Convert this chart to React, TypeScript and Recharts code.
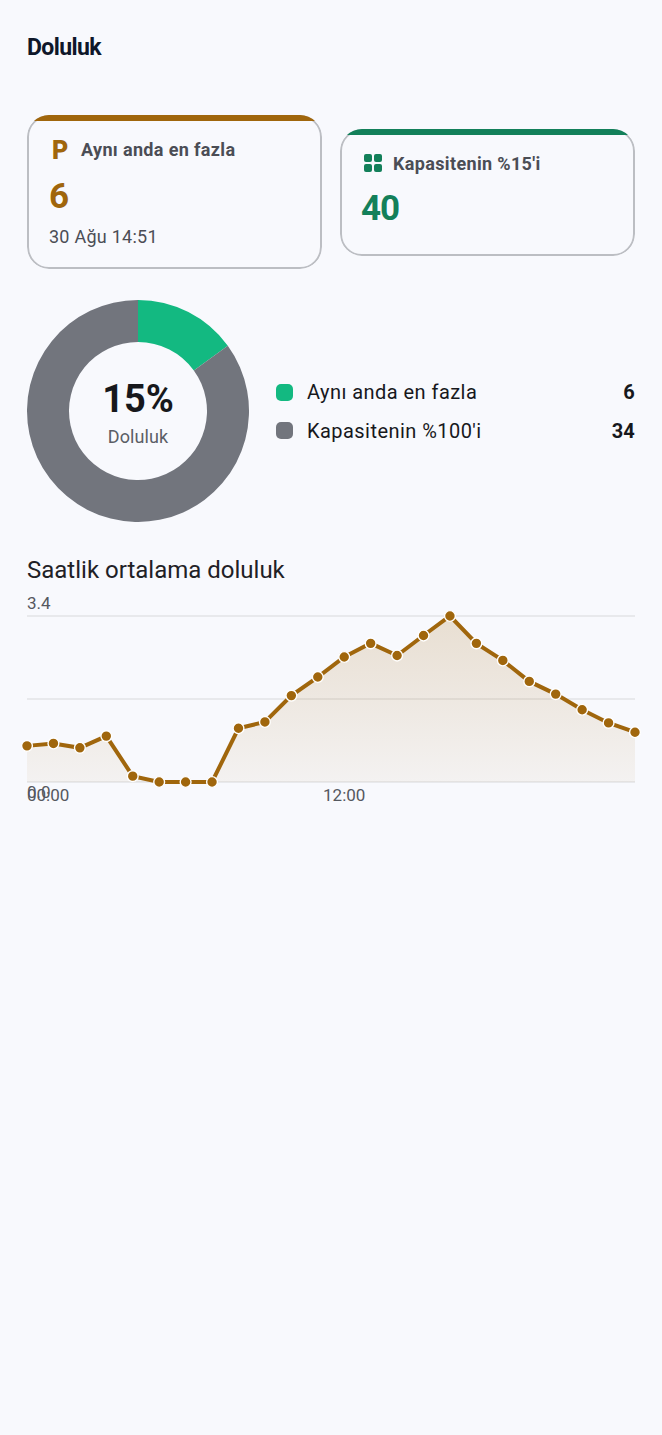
import { AreaChart, Area, CartesianGrid, XAxis, YAxis, PieChart, Pie, Cell } from 'recharts';

const hours = [
  '00:00', '01:00', '02:00', '03:00', '04:00', '05:00', '06:00', '07:00',
  '08:00', '09:00', '10:00', '11:00', '12:00', '13:00', '14:00', '15:00',
  '16:00', '17:00', '18:00', '19:00', '20:00', '21:00', '22:00', '23:00',
];
const occupancy = [
  0.74, 0.79, 0.7, 0.94, 0.12, 0, 0, 0, 1.1, 1.23, 1.77, 2.15,
  2.56, 2.84, 2.59, 3.0, 3.4, 2.84, 2.49, 2.06, 1.8, 1.48, 1.21, 1.02,
];
const xTicks = ['00:00', '12:00'];
const yTicks = [0, 1.7, 3.4];
const sliceNames = ['Aynı anda en fazla', "Kapasitenin %100'i"];
const sliceValues = [6, 34];
const sliceColors = ['#13B981', '#72757D'];

const AMBER = '#A0660C';
const GREEN = '#13805A';
const FONT = 'Roboto, sans-serif';

const hourlyData = hours.map((hour, i) => ({ hour, value: occupancy[i] }));
const pieData = sliceNames.map((name, i) => ({ name, value: sliceValues[i] }));

function XTick({ x, y, payload }: any) {
  const first = payload.value === '00:00';
  return (
    <text x={x} y={y + 11} textAnchor={first ? 'start' : 'middle'} fontSize={17} fontFamily={FONT} fill="#55585f">
      {payload.value}
    </text>
  );
}

function YTick({ y, payload }: any) {
  if (payload.value === 1.7) return <g />;
  return (
    <text x={27} y={payload.value === 0 ? y + 16 : y - 7} fontSize={17} fontFamily={FONT} fill="#55585f">
      {payload.value.toFixed(1)}
    </text>
  );
}

function Card({ left, top, height, color, children }: any) {
  return (
    <div style={{ position: 'absolute', left, top, width: 295, height, borderRadius: 22, overflow: 'hidden' }}>
      <div style={{ position: 'absolute', inset: 0, boxSizing: 'border-box', border: '2px solid #bcbec3', borderRadius: 22 }} />
      <div style={{ position: 'absolute', left: 0, right: 0, top: 0, height: 6, background: color }} />
      <div style={{ position: 'absolute', inset: 2 }}>{children}</div>
    </div>
  );
}

function Text({ left, top, size, weight = 400, color, children, right, spacing }: any) {
  return (
    <div
      style={{
        position: 'absolute',
        left,
        right,
        top,
        fontFamily: FONT,
        fontSize: size,
        fontWeight: weight,
        color,
        lineHeight: `${Math.round(size * 1.2)}px`,
        letterSpacing: spacing,
        whiteSpace: 'nowrap',
      }}
    >
      {children}
    </div>
  );
}

export default function App() {
  return (
    <div style={{ position: 'absolute', left: 0, top: 0, width: 662, height: 1435, background: '#F8F9FD', overflow: 'hidden' }}>
      <Text left={27} top={34} size={23} weight={700} color="#0F172A" spacing={-0.6}>Doluluk</Text>

      <Card left={27} top={115} height={154} color={AMBER}>
        <Text left={23} top={19} size={25} weight={900} color={AMBER}>P</Text>
        <Text left={52} top={22} size={18} weight={700} color="#4B4D55" spacing={0.35}>Aynı anda en fazla</Text>
        <Text left={20} top={59} size={35} weight={700} color={AMBER}>6</Text>
        <Text left={20} top={109} size={18} color="#4B4D55" spacing={0.25}>30 Ağu 14:51</Text>
      </Card>

      <Card left={340} top={129} height={127} color={GREEN}>
        <div style={{ position: 'absolute', left: 22, top: 23, width: 18, height: 18, display: 'grid', gridTemplateColumns: '8px 8px', gridTemplateRows: '8px 8px', gap: 2 }}>
          {[0, 1, 2, 3].map((k) => (
            <div key={k} style={{ background: GREEN, borderRadius: 2 }} />
          ))}
        </div>
        <Text left={51} top={22} size={18} weight={700} color="#4B4D55" spacing={0.35}>Kapasitenin %15'i</Text>
        <Text left={19} top={57} size={35} weight={700} color={GREEN} spacing={-1}>40</Text>
      </Card>

      <div style={{ position: 'absolute', left: 27, top: 300 }}>
        <PieChart width={222} height={222} margin={{ top: 0, right: 0, bottom: 0, left: 0 }}>
          <Pie
            data={pieData}
            dataKey="value"
            cx={111}
            cy={111}
            innerRadius={69}
            outerRadius={111}
            startAngle={90}
            endAngle={-270}
            stroke="none"
            isAnimationActive={false}
          >
            {pieData.map((d, i) => (
              <Cell key={d.name} fill={sliceColors[i]} />
            ))}
          </Pie>
        </PieChart>
      </div>
      <div style={{ position: 'absolute', left: 27, width: 222, top: 376, textAlign: 'center', fontFamily: FONT, fontSize: 38, fontWeight: 700, color: '#17181C', lineHeight: '46px' }}>15%</div>
      <div style={{ position: 'absolute', left: 27, width: 222, top: 426, textAlign: 'center', fontFamily: FONT, fontSize: 18, color: '#5B5E66', lineHeight: '22px', letterSpacing: 0.1 }}>Doluluk</div>

      {pieData.map((d, i) => (
        <div key={d.name}>
          <div style={{ position: 'absolute', left: 276, top: 383.5 + i * 38, width: 17, height: 17, borderRadius: 5, background: sliceColors[i] }} />
          <Text left={307} top={380 + i * 38.5} size={20} color="#17181C" spacing={0.45}>{d.name}</Text>
          <Text right={27} top={380 + i * 38.5} size={20} weight={700} color="#17181C" spacing={0.2}>{d.value}</Text>
        </div>
      ))}

      <Text left={27} top={556} size={24} color="#1F2126">Saatlik ortalama doluluk</Text>

      <div style={{ position: 'absolute', left: 0, top: 590 }}>
        <AreaChart width={662} height={230} data={hourlyData} margin={{ top: 26, right: 27, bottom: 0, left: 0 }}>
          <defs>
            <linearGradient id="occupancyFill" x1="0" y1="0" x2="0" y2="1">
              <stop offset="0%" stopColor={AMBER} stopOpacity={0.18} />
              <stop offset="100%" stopColor={AMBER} stopOpacity={0.05} />
            </linearGradient>
          </defs>
          <CartesianGrid horizontal vertical={false} stroke="#E8E9EC" strokeWidth={2} />
          <XAxis dataKey="hour" ticks={xTicks} interval={0} height={38} axisLine={false} tickLine={false} tick={<XTick />} />
          <YAxis domain={[0, 3.4]} ticks={yTicks} width={27} axisLine={false} tickLine={false} tick={<YTick />} />
          <Area
            type="linear"
            dataKey="value"
            stroke={AMBER}
            strokeWidth={4}
            fill="url(#occupancyFill)"
            fillOpacity={1}
            dot={{ r: 5.4, fill: AMBER, fillOpacity: 1, stroke: '#FFFFFF', strokeWidth: 1.4 }}
            isAnimationActive={false}
          />
        </AreaChart>
      </div>
    </div>
  );
}
